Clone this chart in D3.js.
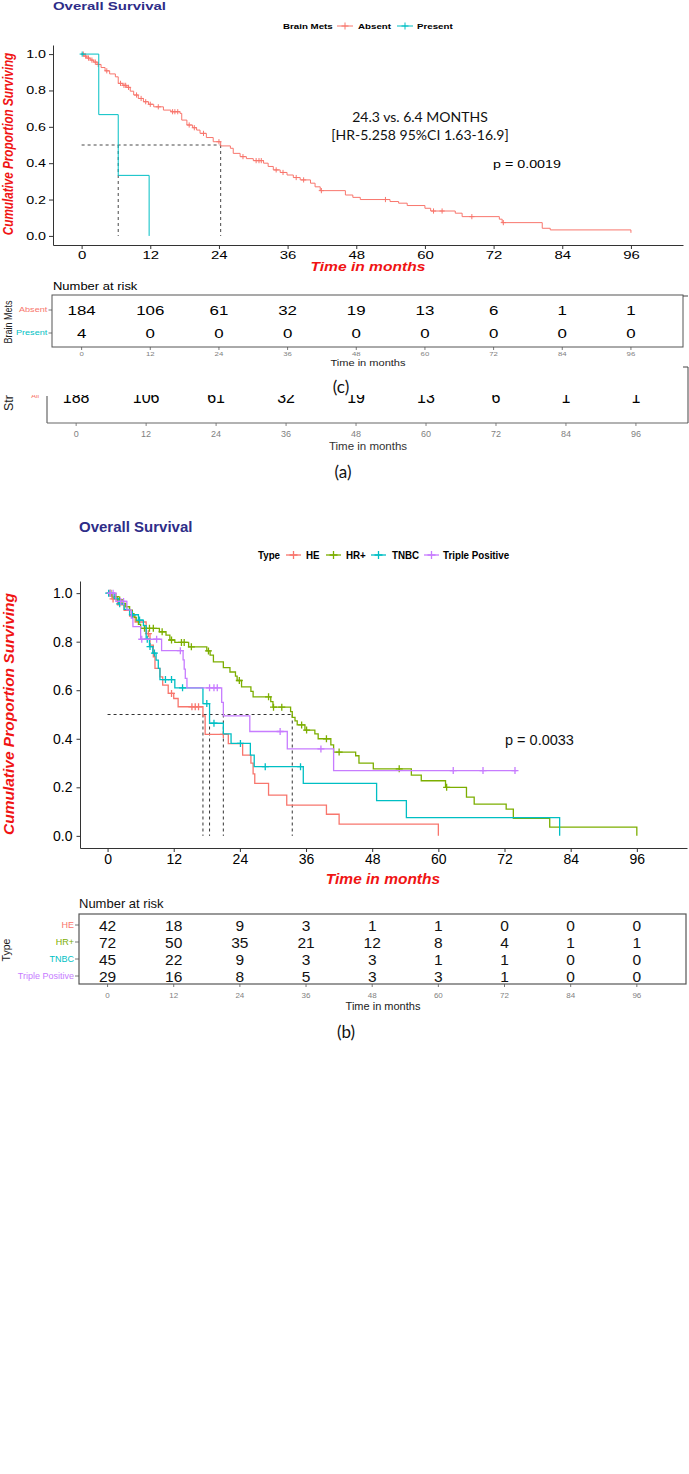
<!DOCTYPE html>
<html>
<head>
<meta charset="utf-8">
<script src="https://cdn.jsdelivr.net/npm/d3@7"></script>
<style>
  body { margin: 0; background: #fff; }
  svg { display: block; font-family: "Liberation Sans", Arial, sans-serif; }
  /* panel (c) was stretched sideways in the source figure */
  .sx   { transform-box: fill-box; transform-origin: center; transform: scaleX(1.3); }
  .sx-l { transform-box: fill-box; transform-origin: left center; transform: scaleX(1.3); }
  .sx-r { transform-box: fill-box; transform-origin: right center; transform: scaleX(1.3); }
  .nar  { transform-box: fill-box; transform-origin: left center; transform: scaleX(0.85); }
</style>
</head>
<body>
<svg id="fig" width="689" height="1474"></svg>
<script>
const months = [0, 12, 24, 36, 48, 60, 72, 84, 96];
const survTicks = [0, 0.2, 0.4, 0.6, 0.8, 1.0];

// ---- panel (c): Brain Mets ----
const brainGroups = ["Absent", "Present"];
const brainColors = ["#F8766D", "#00BFC4"];
const absentSteps = [[0,1],[0.4,0.989],[0.9,0.978],[1.5,0.967],[2.1,0.956],[2.7,0.943],[3.4,0.926],[4.1,0.908],
  [4.9,0.891],[5.9,0.875],[6.4,0.839],[7.2,0.828],[7.9,0.817],[8.5,0.796],[9.1,0.775],[9.9,0.756],[10.8,0.738],
  [11.7,0.724],[12.6,0.71],[14.3,0.692],[15.6,0.683],[17.2,0.674],[17.5,0.637],[18.4,0.61],[19.4,0.595],
  [20.1,0.582],[20.7,0.564],[21.8,0.541],[23.0,0.518],[24.3,0.495],[26.0,0.482],[26.5,0.454],[27.7,0.436],
  [28.8,0.425],[30.0,0.414],[31.8,0.40],[32.6,0.382],[33.5,0.363],[34.7,0.349],[35.9,0.335],[37.0,0.321],
  [38.2,0.308],[40.0,0.29],[40.8,0.27],[41.7,0.249],[46.1,0.225],[47.4,0.212],[48.7,0.2],[53.9,0.189],
  [55.4,0.18],[56.9,0.167],[60.0,0.152],[61.0,0.137],[65.3,0.125],[66.5,0.106],[73.0,0.092],[73.5,0.073],
  [80.5,0.042],[81.9,0.033],[96,0.017]];
const absentCensor = [0.3,0.7,1.2,1.8,2.4,2.9,4.4,6.8,7.4,7.7,8.2,9.6,10.4,11.2,12.0,13.4,15.9,16.3,16.8,
  18.8,19.7,21.3,24.0,28.2,30.5,31.0,31.4,34.0,35.2,37.5,38.8,41.9,53.1,61.5,63.0,68.2,73.7];
const presentSteps = [[0,1],[3.0,0.667],[6.4,0.333],[11.8,0]];
const presentCensor = [0.1];
const brainMedians = [24.3, 6.4];
const absentRisk = [184, 106, 61, 32, 19, 13, 6, 1, 1];
const presentRisk = [4, 0, 0, 0, 0, 0, 0, 0, 0];
const stripRisk = [188, 106, 61, 32, 19, 13, 6, 1, 1];
const brainP = "p = 0.0019";
const brainNote = ["24.3 vs. 6.4 MONTHS", "[HR-5.258 95%CI 1.63-16.9]"];

// ---- panel (b): Type ----
const typeGroups = ["HE", "HR+", "TNBC", "Triple Positive"];
const typeColors = ["#F8766D", "#7CAE00", "#00BFC4", "#C77CFF"];
const heSteps = [[0,1],[0.8,0.976],[1.8,0.952],[3.0,0.929],[4.0,0.905],[5.0,0.881],[7.0,0.833],[7.7,0.786],
  [8.3,0.738],[8.6,0.69],[9.5,0.655],[10.0,0.621],[11.0,0.587],[12.0,0.566],[12.8,0.532],[17.3,0.494],
  [17.7,0.418],[21.9,0.38],[24.5,0.333],[26.0,0.30],[26.4,0.255],[26.7,0.216],[29.2,0.168],[32.5,0.127],
  [39.7,0.089],[42.0,0.048],[60,0]];
const heCensor = [0.4, 1.0, 7.4, 11.6, 15.3, 15.9, 16.5, 21.0];
const hrSteps = [[0,1],[0.9,0.986],[1.8,0.972],[2.6,0.958],[3.3,0.944],[4.0,0.93],[4.5,0.915],[4.8,0.9],
  [5.2,0.886],[5.6,0.871],[6.0,0.855],[9.4,0.841],[10.6,0.827],[11.3,0.807],[12.2,0.797],[14.7,0.779],
  [18.0,0.762],[18.6,0.745],[19.2,0.717],[21.0,0.693],[22.2,0.675],[23.2,0.658],[23.5,0.64],[24.3,0.614],
  [26.0,0.595],[26.4,0.573],[29.6,0.553],[30.0,0.53],[33.2,0.512],[33.5,0.488],[34.0,0.474],[34.4,0.457],
  [35.8,0.436],[37.6,0.42],[38.2,0.40],[40.5,0.375],[41.0,0.345],[45.0,0.33],[45.6,0.30],[48.2,0.276],
  [55.1,0.25],[56.9,0.227],[61.3,0.2],[65.1,0.16],[66.5,0.131],[72.3,0.11],[73.6,0.072],[80.2,0.036],[96,0]];
const hrCensor = [0.6, 1.5, 2.2, 6.7, 7.6, 8.3, 9.9, 11.6, 13.4, 13.9, 15.2, 18.3, 23.9, 29.2, 30.1, 31.6,
  35.2, 36.1, 39.7, 42.0, 52.9, 61.5];
const tnbcSteps = [[0,1],[1.2,0.978],[2.0,0.956],[3.0,0.933],[4.0,0.911],[5.6,0.889],[6.5,0.866],[7.0,0.81],
  [7.6,0.78],[8.2,0.753],[8.8,0.724],[9.2,0.69],[9.5,0.644],[12.2,0.61],[17.3,0.545],[18.5,0.464],
  [21.0,0.42],[22.4,0.381],[25.9,0.333],[26.6,0.285],[35.5,0.216],[48.8,0.145],[54.2,0.075],[82,0]];
const tnbcCensor = [0.2, 2.2, 4.5, 5.8, 7.2, 7.7, 8.5, 10.5, 11.6, 13.6, 18.0, 19.3, 24.1, 28.6, 35.0];
const tpSteps = [[0,1],[1.5,0.966],[3.5,0.931],[4.3,0.897],[4.6,0.862],[6.0,0.81],[9.8,0.763],[13.7,0.725],
  [13.9,0.687],[14.1,0.649],[14.4,0.61],[20.7,0.55],[21.0,0.494],[25.8,0.43],[32.6,0.358],[41.0,0.269],
  [74.2,0.269]];
const tpCensor = [0.5, 1.0, 2.4, 2.9, 6.2, 8.9, 13.2, 18.5, 19.3, 19.9, 31.3, 38.7, 62.7, 68.1, 73.9];
const typeMedians = [17.3, 33.5, 18.5, 21.0];
const heRisk = [42, 18, 9, 3, 1, 1, 0, 0, 0];
const hrRisk = [72, 50, 35, 21, 12, 8, 4, 1, 1];
const tnbcRisk = [45, 22, 9, 3, 3, 1, 1, 0, 0];
const tpRisk = [29, 16, 8, 5, 3, 3, 1, 0, 0];
const typeP = "p = 0.0033";

const navy = "#2E2D88", red = "#F01414", axisCol = "#333", gray = "#7f7f7f";

const svg = d3.select("#fig");
svg.append("rect").attr("width", 689).attr("height", 1474).attr("fill", "#fff");

function txt(p, x, y, s, size, o = {}) {
  return p.append("text")
    .attr("x", x).attr("y", y).text(s)
    .attr("font-size", size)
    .attr("text-anchor", o.anchor || "start")
    .attr("font-weight", o.weight || "normal")
    .attr("font-style", o.style || "normal")
    .attr("fill", o.fill || "#000")
    .attr("font-family", o.family || null)
    .attr("class", o.cls || null);
}
const survAt = (steps, t) => {
  let s = steps[0][1];
  steps.forEach(d => { if (d[0] <= t) s = d[1]; });
  return s;
};
const cross = r => `M${-r},0H${r}M0,${-r}V${r}`;
const hline = (g, x1, x2, y, col, w) => g.append("line").attr("x1", x1).attr("x2", x2)
  .attr("y1", y).attr("y2", y).attr("stroke", col).attr("stroke-width", w);
const vline = (g, x, y1, y2, col, w) => g.append("line").attr("x1", x).attr("x2", x)
  .attr("y1", y1).attr("y2", y2).attr("stroke", col).attr("stroke-width", w);

function drawKM(g, x, y, series, r, lw) {
  const line = d3.line().x(d => x(d[0])).y(d => y(d[1])).curve(d3.curveStepAfter);
  series.forEach(s => {
    g.append("path").datum(s.steps).attr("d", line)
      .attr("fill", "none").attr("stroke", s.color).attr("stroke-width", lw);
    g.selectAll(null).data(s.censor).join("path")
      .attr("transform", t => `translate(${x(t)},${y(survAt(s.steps, t))})`)
      .attr("d", cross(r)).attr("fill", "none")
      .attr("stroke", s.color).attr("stroke-width", lw);
  });
}
function drawMedians(g, x, y, meds, lw) {
  const dashed = sel => sel.attr("stroke-dasharray", "3,3");
  dashed(hline(g, x(0), x(d3.max(meds)), y(0.5), axisCol, lw));
  meds.forEach(m => dashed(vline(g, x(m), y(0.5), y(0), axisCol, lw)));
}
function styleAxis(a, size, cls, col) {
  a.select(".domain").attr("stroke", axisCol).attr("stroke-width", 1);
  a.selectAll(".tick line").attr("stroke", axisCol);
  a.selectAll(".tick text").attr("font-size", size).attr("fill", col || "#000")
    .attr("font-family", null).attr("class", cls);
  a.attr("font-family", null);
}

// =============== panel (c) ===============
const xC = d3.scaleLinear().domain([-5, 105.1]).range([53, 683]);
const yC = d3.scaleLinear().domain([-0.05, 1.05]).range([245, 45]);
const gC = svg.append("g");

txt(gC, 53, 10, "Overall Survival", 11.5, { weight: "bold", fill: navy, cls: "sx-l" });

// legend
const legC = gC.append("g");
txt(legC, 283, 29, "Brain Mets", 7.5, { weight: "bold", cls: "sx-l" });
[[337, 358], [397, 417]].forEach((p, i) => {
  hline(legC, p[0], p[0] + 16, 26, brainColors[i], 1);
  legC.append("path").attr("d", cross(3.5)).attr("transform", `translate(${p[0] + 8},26)`)
    .attr("stroke", brainColors[i]).attr("stroke-width", 1);
  txt(legC, p[1], 29, brainGroups[i], 7.5, { weight: "bold", cls: "sx-l" });
});

const axCx = gC.append("g").attr("transform", "translate(0,245)")
  .call(d3.axisBottom(xC).tickValues(months).tickSize(4).tickSizeOuter(0).tickPadding(2));
styleAxis(axCx, 11.5, "sx");
const axCy = gC.append("g").attr("transform", "translate(53,0)")
  .call(d3.axisLeft(yC).tickValues(survTicks).tickFormat(d3.format(".1f")).tickSize(4).tickSizeOuter(0).tickPadding(3));
styleAxis(axCy, 11, "sx-r");

drawMedians(gC, xC, yC, brainMedians, 0.9);
drawKM(gC, xC, yC, [
  { steps: absentSteps, censor: absentCensor, color: brainColors[0] },
  { steps: presentSteps, censor: presentCensor, color: brainColors[1] }
], 2.6, 1);

gC.append("g").attr("transform", "translate(12.5,144) scale(1.3,1)")
  .append("text").attr("transform", "rotate(-90)").attr("text-anchor", "middle")
  .attr("font-size", 11.7).attr("font-weight", "bold").attr("font-style", "italic")
  .attr("fill", red).text("Cumulative Proportion Surviving");
txt(gC, 368, 271.5, "Time in months", 12, { anchor: "middle", weight: "bold", style: "italic", fill: red, cls: "sx" });

txt(gC, 420, 122, brainNote[0], 14, { anchor: "middle", family: "Lato, 'Open Sans', sans-serif", fill: "#111" });
txt(gC, 420, 139.5, brainNote[1], 14, { anchor: "middle", family: "Lato, 'Open Sans', sans-serif", fill: "#111" });
txt(gC, 493, 168, brainP, 11, { cls: "sx-l" });

// number at risk (c)
const tC = svg.append("g");
txt(tC, 53, 290, "Number at risk", 10, { cls: "sx-l" });
tC.append("rect").attr("x", 52).attr("y", 295).attr("width", 631).attr("height", 52)
  .attr("fill", "none").attr("stroke", "#555").attr("stroke-width", 1);
hline(tC, 683, 688, 296, "#444", 1);
const rowsC = [absentRisk, presentRisk], rowYC = [310, 333];
rowsC.forEach((row, i) => {
  tC.selectAll(null).data(row).join("text")
    .attr("x", (d, j) => xC(months[j])).attr("y", rowYC[i] + 4.7)
    .attr("text-anchor", "middle").attr("font-size", 13).attr("class", "sx")
    .text(d => d);
  txt(tC, 47.5, rowYC[i] + 2.5, brainGroups[i], 7, { anchor: "end", fill: brainColors[i], cls: "sx-r" });
  hline(tC, 48.5, 52, rowYC[i], "#555", 0.8);
});
months.forEach(m => {
  vline(tC, xC(m), 347, 350, "#555", 0.8);
  txt(tC, xC(m), 356.5, m, 6, { anchor: "middle", fill: gray, cls: "sx" });
});
txt(tC, 368, 366, "Time in months", 8.5, { anchor: "middle", fill: "#222", cls: "sx" });
tC.append("g").attr("transform", "translate(11.5,322) scale(1.3,1)")
  .append("text").attr("transform", "rotate(-90)").attr("text-anchor", "middle")
  .attr("font-size", 9).attr("fill", "#222").text("Brain Mets");

// =============== leftover strip of panel (a) ===============
const xA = d3.scaleLinear().domain([-5, 105.1]).range([47, 689]);
const gA = svg.append("g");
gA.append("clipPath").attr("id", "stripClip")
  .append("rect").attr("x", 0).attr("y", 395).attr("width", 689).attr("height", 40);
const clipA = gA.append("g").attr("clip-path", "url(#stripClip)");
clipA.selectAll(null).data(stripRisk).join("text")
  .attr("x", (d, j) => xA(months[j])).attr("y", 403.3)
  .attr("text-anchor", "middle").attr("font-size", 16).text(d => d);
txt(clipA, 39, 398, "All", 7, { anchor: "end", fill: brainColors[0] });
clipA.append("text").attr("transform", "translate(13.3,411) rotate(-90)")
  .attr("font-size", 12.5).attr("fill", "#222").text("Strata");
vline(gA, 47, 396, 423, "#666", 1.2);
hline(gA, 47, 688, 423, "#666", 1.2);
vline(gA, 688, 367, 423, "#444", 1);
hline(gA, 683, 688, 367, "#444", 1);
months.forEach(m => {
  vline(gA, xA(m), 423, 426, "#666", 0.8);
  txt(gA, xA(m), 436.5, m, 9, { anchor: "middle", fill: gray });
});
txt(gA, 368, 450, "Time in months", 11.5, { anchor: "middle", fill: "#333" });

const capFont = "Lato, 'Open Sans', sans-serif";
txt(svg, 341, 393, "(c)", 17, { anchor: "middle", family: capFont, fill: "#111" });
txt(svg, 343, 478, "(a)", 17, { anchor: "middle", family: capFont, fill: "#111" });

// =============== panel (b) ===============
const xB = d3.scaleLinear().domain([-5, 105.1]).range([80, 687]);
const yB = d3.scaleLinear().domain([-0.05, 1.05]).range([848, 581]);
const gB = svg.append("g");

txt(gB, 79, 531.5, "Overall Survival", 15, { weight: "bold", fill: navy });

const legB = gB.append("g");
txt(legB, 258, 559, "Type", 11.5, { weight: "bold", cls: "nar" });
const legPos = [[286, 306], [326, 346], [371, 392], [424, 443]];
legPos.forEach((p, i) => {
  hline(legB, p[0], p[0] + 15, 555, typeColors[i], 1.3);
  legB.append("path").attr("d", cross(4)).attr("transform", `translate(${p[0] + 7.5},555)`)
    .attr("stroke", typeColors[i]).attr("stroke-width", 1.3);
  txt(legB, p[1], 559, typeGroups[i], 11.5, { weight: "bold", cls: "nar" });
});

const axBx = gB.append("g").attr("transform", "translate(0,848)")
  .call(d3.axisBottom(xB).tickValues(months).tickSize(4).tickSizeOuter(0).tickPadding(2));
styleAxis(axBx, 14, null);
const axBy = gB.append("g").attr("transform", "translate(80,0)")
  .call(d3.axisLeft(yB).tickValues(survTicks).tickFormat(d3.format(".1f")).tickSize(3.5).tickSizeOuter(0).tickPadding(4));
styleAxis(axBy, 14, null);

drawMedians(gB, xB, yB, typeMedians, 1);
drawKM(gB, xB, yB, [
  { steps: heSteps, censor: heCensor, color: typeColors[0] },
  { steps: hrSteps, censor: hrCensor, color: typeColors[1] },
  { steps: tnbcSteps, censor: tnbcCensor, color: typeColors[2] },
  { steps: tpSteps, censor: tpCensor, color: typeColors[3] }
], 3.5, 1.3);

txt(gB, 505, 745, typeP, 14.5, { fill: "#111" });
gB.append("text").attr("transform", "translate(14,714) rotate(-90)").attr("text-anchor", "middle")
  .attr("font-size", 15.5).attr("font-weight", "bold").attr("font-style", "italic")
  .attr("fill", red).text("Cumulative Proportion Surviving");
txt(gB, 383, 883.5, "Time in months", 15.5, { anchor: "middle", weight: "bold", style: "italic", fill: red });

// number at risk (b)
const tB = svg.append("g");
txt(tB, 79, 907.5, "Number at risk", 13, { fill: "#111" });
tB.append("rect").attr("x", 79).attr("y", 914).attr("width", 607).attr("height", 70)
  .attr("fill", "none").attr("stroke", "#555").attr("stroke-width", 1.2);
const rowsB = [heRisk, hrRisk, tnbcRisk, tpRisk], rowYB = [925, 942, 959, 976];
rowsB.forEach((row, i) => {
  tB.selectAll(null).data(row).join("text")
    .attr("x", (d, j) => xB(months[j])).attr("y", rowYB[i] + 5.6)
    .attr("text-anchor", "middle").attr("font-size", 15.5).attr("fill", "#111")
    .text(d => d);
  txt(tB, 74, rowYB[i] + 3.2, typeGroups[i], 9, { anchor: "end", fill: typeColors[i] });
  hline(tB, 75, 79, rowYB[i], "#555", 0.8);
});
months.forEach(m => {
  vline(tB, xB(m), 984, 987, "#555", 0.8);
  txt(tB, xB(m), 998, m, 8, { anchor: "middle", fill: gray });
});
txt(tB, 383, 1010, "Time in months", 11, { anchor: "middle", fill: "#222" });
tB.append("text").attr("transform", "translate(10,950) rotate(-90)").attr("text-anchor", "middle")
  .attr("font-size", 10.5).attr("fill", "#222").text("Type");

txt(svg, 346, 1038, "(b)", 17, { anchor: "middle", family: capFont, fill: "#111" });
</script>
</body>
</html>
